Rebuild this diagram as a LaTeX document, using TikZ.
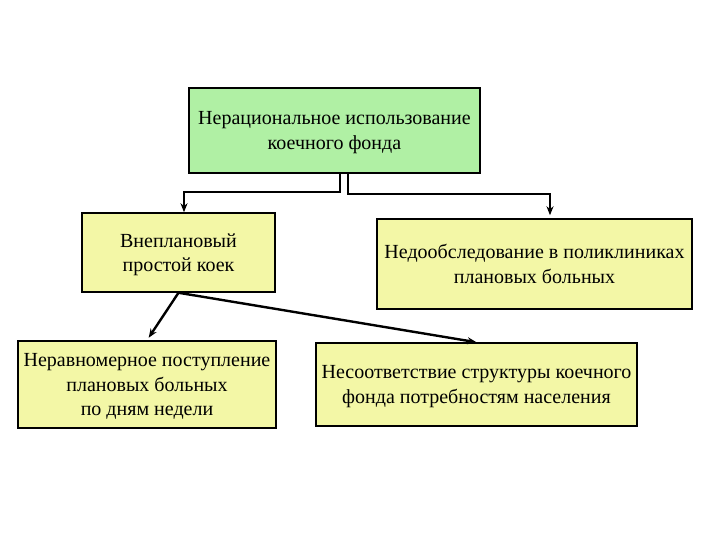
\documentclass[tikz,border=0pt]{standalone}
\usepackage{fontspec}
\setmainfont{Liberation Serif}
\usetikzlibrary{arrows.meta}
\definecolor{boxgreen}{RGB}{176,240,164}
\definecolor{boxyellow}{RGB}{243,247,166}
\begin{document}
\begin{tikzpicture}[x=1pt,y=-1pt,
  box/.style={draw=black,line width=1.5pt,inner sep=0pt,align=center,text depth=0pt,
    font=\fontsize{20}{24.5}\selectfont},
  conn/.style={draw=black,line width=2.4pt,-{Stealth[length=9pt,width=7pt]}}]
\useasboundingbox (0,0) rectangle (720,540);
\fill[white] (0,0) rectangle (720,540);
\node[box,fill=boxgreen,minimum width=291pt,minimum height=85pt] (top) at (334.5,130.5)
  {Нерациональное использование\\коечного фонда};
\node[box,fill=boxyellow,minimum width=193pt,minimum height=79pt] (lm) at (178.5,252.5)
  {Внеплановый\\простой коек};
\node[box,fill=boxyellow,minimum width=315pt,minimum height=90pt] (rm) at (534.5,264)
  {Недообследование в поликлиниках\\плановых больных};
\node[box,fill=boxyellow,minimum width=258pt,minimum height=87pt] (bl) at (147,384.5)
  {Неравномерное поступление\\плановых больных\\по дням недели};
\node[box,fill=boxyellow,minimum width=321pt,minimum height=83pt] (br) at (476.5,384.5)
  {Несоответствие структуры коечного\\фонда потребностям населения};
\draw[conn] ([xshift=5.5pt]top.south) -- ([xshift=5.5pt]top.south |- 0,192) -| ([xshift=5.5pt]lm.north);
\draw[conn,shorten >=3pt] ([xshift=13.5pt]top.south) -- ([xshift=13.5pt]top.south |- 0,194) -| ([xshift=15.5pt]rm.north);
\draw[conn,shorten >=3pt] (lm.south) -- (bl.north);
\draw[conn] (lm.south) -- (br.north);
\end{tikzpicture}
\end{document}
